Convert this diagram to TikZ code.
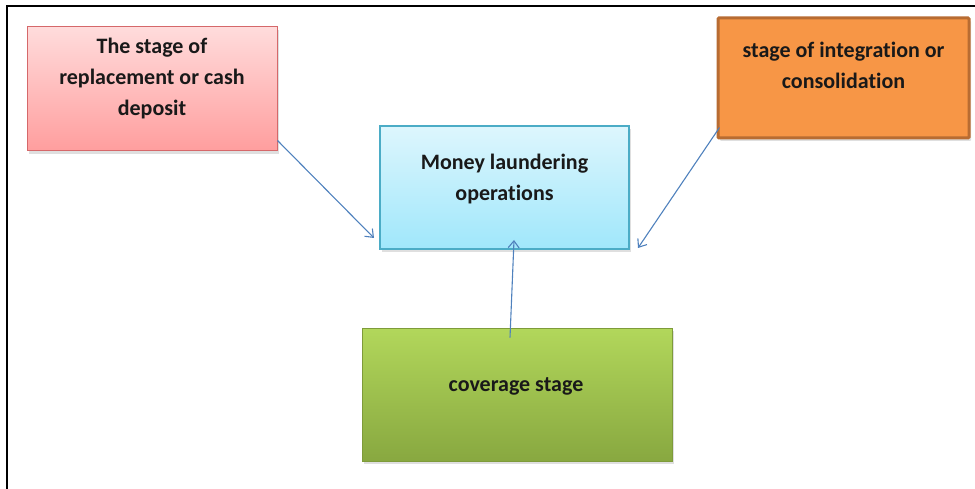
\documentclass[tikz,border=0pt]{standalone}
\usepackage{fontspec}
\setmainfont{Carlito}[Ligatures=NoCommon]
\usetikzlibrary{arrows.meta,shadows}
\definecolor{pinkTop}{HTML}{FFDCDC}
\definecolor{pinkBot}{HTML}{FF9E9E}
\definecolor{pinkEdge}{HTML}{D5686A}
\definecolor{blueTop}{HTML}{DDF6FD}
\definecolor{blueBot}{HTML}{A0E7FB}
\definecolor{blueEdge}{HTML}{4BACC6}
\definecolor{orFill}{HTML}{F79646}
\definecolor{orEdge}{HTML}{B86C32}
\definecolor{grTop}{HTML}{B2D75B}
\definecolor{grBot}{HTML}{88A840}
\definecolor{grEdge}{HTML}{7E9B3A}
\definecolor{arrowBlue}{HTML}{4F81BD}
\tikzset{
  boxbase/.style={rectangle, inner sep=0pt, drop shadow={shadow xshift=2pt, shadow yshift=-3pt, opacity=0.25}},
  lbl/.style={font=\bfseries\fontsize{22}{31}\selectfont, align=center, text=black!90, inner sep=0pt},
  arr/.style={draw=arrowBlue, line width=1.1pt, -{Straight Barb[length=7pt,width=11pt,line width=1.1pt]}},
  frame/.style={draw=black, line width=1.4pt}
}
\begin{document}
\begin{tikzpicture}[x=1pt,y=-1pt]
\useasboundingbox (0,0) rectangle (975,489);
% frame
\draw[frame] (7,489) -- (7,6) -- (975,6);
% boxes
\node[boxbase, minimum width=250pt, minimum height=124pt, top color=pinkTop, bottom color=pinkBot, draw=pinkEdge, line width=1pt] (pink) at (152,89) {};
\node[boxbase, minimum width=249pt, minimum height=123pt, top color=blueTop, bottom color=blueBot, draw=blueEdge, line width=1.3pt] (blue) at (504.5,187.5) {};
\node[boxbase, minimum width=251pt, minimum height=120pt, fill=orFill, draw=orEdge, line width=3pt, rounded corners=1pt] (orng) at (843.5,78) {};
\node[boxbase, minimum width=310pt, minimum height=133pt, top color=grTop, bottom color=grBot, draw=grEdge, line width=0.6pt] (gren) at (517,394.5) {};
% labels
\node[lbl] (tpink) at (152,79) {The stage of\\replacement or cash\\deposit};
\node[lbl] (tblue) at (504.5,179) {Money laundering\\operations};
\node[lbl] (torng) at (843.5,65) {stage of integration or\\consolidation};
\node[lbl] (tgren) at (516,386) {coverage stage};
% arrow end points
\coordinate (e1) at (374,238);
\coordinate (e2) at (638,248);
\coordinate (e3) at (514,240);
% arrows
\draw[arr] ([yshift=11pt]pink.south east) -- (e1);
\draw[arr] ([xshift=3pt,yshift=12pt]orng.south west) -- (e2);
\draw[arr] ([xshift=-7pt,yshift=-10pt]gren.north) -- (e3);
\end{tikzpicture}
\end{document}
